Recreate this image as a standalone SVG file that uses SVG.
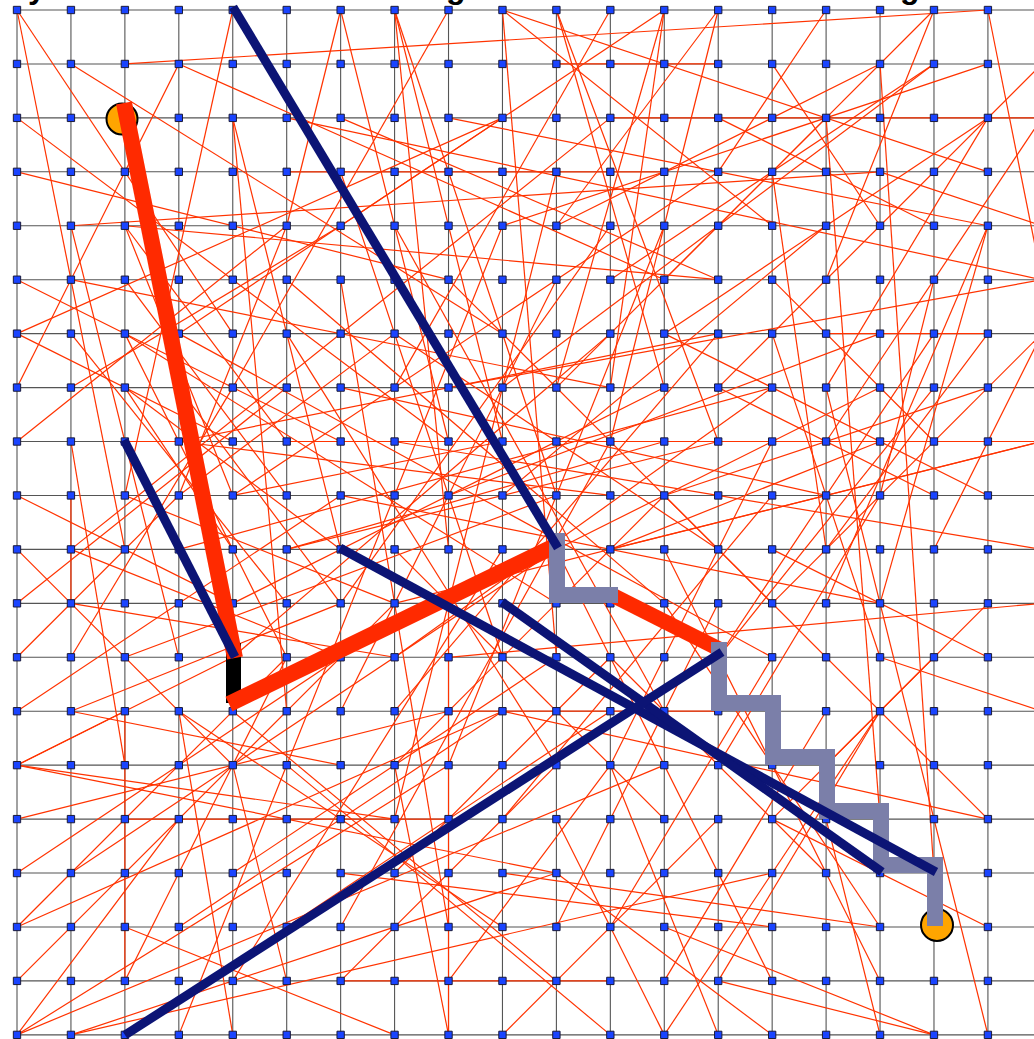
<svg xmlns="http://www.w3.org/2000/svg" width="1034" height="1039" viewBox="0 0 1034 1039">
<style>
.g{fill:none;stroke:#555;stroke-width:1.1}
.e path{fill:none;stroke:#ff3300;stroke-width:1.2}
.ns{vector-effect:non-scaling-stroke}
.title{font-family:"Liberation Sans",Arial,sans-serif;font-weight:bold;font-size:32px;fill:#000}
.navy{stroke:#0c1475;stroke-width:9;fill:none}
.hot{stroke:#ff2a00;fill:none}
.stair{stroke:#7b7fa9;stroke-width:16;fill:none;stroke-linejoin:miter}
.goal{fill:#ffa500;stroke:#000;stroke-width:2}
</style>
<defs>
<rect id="nd" x="-0.068" y="-0.068" width="0.136" height="0.136" fill="#1a44ff" stroke="#1a1a3a" stroke-width="1" vector-effect="non-scaling-stroke"/>
</defs>
<rect width="1034" height="1039" fill="#fff"/>
<text class="title" x="28" y="-2">y</text>
<text class="title" x="446" y="-2">g</text>
<text class="title" x="900" y="-2">g</text>
<g transform="translate(17 10) scale(53.94)">
<path id="grid" class="g ns" d="M0 0H19M0 1H19M0 2H19M0 3H19M0 4H19M0 5H19M0 6H19M0 7H19M0 8H19M0 9H19M0 10H19M0 11H19M0 12H19M0 13H19M0 14H19M0 15H19M0 16H19M0 17H19M0 18H19M0 19H19M0 0V19M1 0V19M2 0V19M3 0V19M4 0V19M5 0V19M6 0V19M7 0V19M8 0V19M9 0V19M10 0V19M11 0V19M12 0V19M13 0V19M14 0V19M15 0V19M16 0V19M17 0V19M18 0V19"/>
<g id="edges" class="e">
<path class="ns" d="M2 1L18 0"/><path class="ns" d="M0 0L2 10"/><path class="ns" d="M0 0L4 6"/><path class="ns" d="M1 1L9 6"/>
<path class="ns" d="M3 1L12 5"/><path class="ns" d="M0 8L5 4"/><path class="ns" d="M0 2L8 8"/><path class="ns" d="M0 3L8 5"/>
<path class="ns" d="M1 4L16 3"/><path class="ns" d="M2 4L13 5"/><path class="ns" d="M1 4L3 12"/><path class="ns" d="M2 4L5 8"/>
<path class="ns" d="M2 4L4 9"/><path class="ns" d="M4 2L5 13"/><path class="ns" d="M4 2L6 10"/><path class="ns" d="M4 0L2 9"/>
<path class="ns" d="M1 5L11 7"/><path class="ns" d="M0 5L6 8"/><path class="ns" d="M0 6L4 8"/><path class="ns" d="M0 7L3 1"/>
<path class="ns" d="M7 0L9 8"/><path class="ns" d="M7 0L10 9"/><path class="ns" d="M8 0L4 7"/><path class="ns" d="M6 0L5 4"/>
<path class="ns" d="M6 0L8 8"/><path class="ns" d="M7 0L8 10"/><path class="ns" d="M9 0L14 4"/><path class="ns" d="M9 0L10 12"/>
<path class="ns" d="M9 0L18 3"/><path class="ns" d="M10 0L12 7"/><path class="ns" d="M10 0L13 8"/><path class="ns" d="M11 0L7 7"/>
<path class="ns" d="M12 0L10 7"/><path class="ns" d="M12 0L11 7"/><path class="ns" d="M12 0L6 4"/><path class="ns" d="M13 0L11 8"/>
<path class="ns" d="M13 0L10 4"/><path class="ns" d="M17 0L15 5"/><path class="ns" d="M17 0L12 5"/><path class="ns" d="M18 0L19 5"/>
<path class="ns" d="M16 1L10 4"/><path class="ns" d="M16 1L17 16"/><path class="ns" d="M17 1L9 7"/><path class="ns" d="M17 1L11 5"/>
<path class="ns" d="M18 1L9 4"/><path class="ns" d="M19 1L13 7"/><path class="ns" d="M11 2L19 2"/><path class="ns" d="M15 2L10 7"/>
<path class="ns" d="M15 2L16 15"/><path class="ns" d="M18 2L12 6"/><path class="ns" d="M18 2L15 7"/><path class="ns" d="M19 2L15 8"/>
<path class="ns" d="M8 2L18 4"/><path class="ns" d="M5 2L19 5"/><path class="ns" d="M19 5L8 7"/><path class="ns" d="M18 4L15 11"/>
<path class="ns" d="M18 4L16 11"/><path class="ns" d="M14 3L15 10"/><path class="ns" d="M10 1L13 1"/><path class="ns" d="M5 3L12 3"/>
<path class="ns" d="M6 2L13 5"/><path class="ns" d="M9 2L3 6"/><path class="ns" d="M9 2L0 6"/><path class="ns" d="M11 2L1 10"/>
<path class="ns" d="M1 11L7 12"/><path class="ns" d="M2 8L3 8"/><path class="ns" d="M1 9L1 11"/><path class="ns" d="M0 14L7 15"/>
<path class="ns" d="M0 14L10 16"/><path class="ns" d="M0 14L4 12"/><path class="ns" d="M0 14L2 13"/><path class="ns" d="M0 15L8 13"/>
<path class="ns" d="M0 17L5 12"/><path class="ns" d="M0 18L7 11"/><path class="ns" d="M0 19L12 14"/><path class="ns" d="M0 19L8 14"/>
<path class="ns" d="M0 19L3 15"/><path class="ns" d="M1 19L10 16"/><path class="ns" d="M1 19L14 16"/><path class="ns" d="M1 16L10 10"/>
<path class="ns" d="M2 15L8 15"/><path class="ns" d="M2 13L2 18"/><path class="ns" d="M3 13L9 17"/><path class="ns" d="M4 16L10 12"/>
<path class="ns" d="M3 13L4 19"/><path class="ns" d="M8 13L13 13"/><path class="ns" d="M6 18L11 18"/><path class="ns" d="M8 19L7 14"/>
<path class="ns" d="M8 11L8 19"/><path class="ns" d="M9 13L18 15"/><path class="ns" d="M15 7L18 19"/><path class="ns" d="M12 17L17 19"/>
<path class="ns" d="M13 18L17 19"/><path class="ns" d="M9 16L16 17"/><path class="ns" d="M6 16L14 17"/><path class="ns" d="M13 18L16 13"/>
<path class="ns" d="M5 8L19 8"/><path class="ns" d="M7 8L19 10"/><path class="ns" d="M19 8L7 11"/><path class="ns" d="M19 8L11 10"/><path class="ns" d="M12 6L18 9"/>
<path class="ns" d="M8 12L19 11"/><path class="ns" d="M17 10L19 6"/><path class="ns" d="M18 11L15 14"/><path class="ns" d="M3 6L14 12"/>
<path class="ns" d="M4 9L13 3"/><path class="ns" d="M5 5L12 11"/><path class="ns" d="M6 11L11 4"/><path class="ns" d="M2 6L10 11"/>
<path class="ns" d="M7 4L12 13"/><path class="ns" d="M9 4L5 14"/><path class="ns" d="M10 3L7 15"/><path class="ns" d="M3 10L14 7"/>
<path class="ns" d="M6 3L9 12"/><path class="ns" d="M11 6L4 12"/><path class="ns" d="M12 8L5 10"/><path class="ns" d="M5 6L10 14"/>
<path class="ns" d="M13 6L7 13"/><path class="ns" d="M8 5L14 11"/><path class="ns" d="M4 11L12 7"/><path class="ns" d="M7 6L13 10"/>
<path class="ns" d="M9 9L15 4"/><path class="ns" d="M10 5L6 13"/><path class="ns" d="M6 7L15 9"/><path class="ns" d="M12 4L8 14"/>
<path class="ns" d="M3 8L11 9"/><path class="ns" d="M11 8L6 17"/><path class="ns" d="M14 9L9 15"/><path class="ns" d="M5 10L13 8"/>
<path class="ns" d="M2 12L10 9"/><path class="ns" d="M7 10L12 15"/><path class="ns" d="M8 9L16 6"/><path class="ns" d="M13 11L10 17"/>
<path class="ns" d="M14 8L11 14"/><path class="ns" d="M6 5L8 17"/><path class="ns" d="M10 10L14 18"/><path class="ns" d="M9 10L4 18"/>
<path class="ns" d="M12 10L16 18"/><path class="ns" d="M11 12L15 16"/><path class="ns" d="M7 14L12 9"/><path class="ns" d="M4 13L10 18"/>
<path class="ns" d="M13 15L9 19"/><path class="ns" d="M10 15L12 19"/><path class="ns" d="M11 17L14 12"/><path class="ns" d="M15 13L12 18"/>
<path class="ns" d="M16 9L13 14"/><path class="ns" d="M16 12L19 13"/><path class="ns" d="M14 15L18 17"/><path class="ns" d="M5 14L11 19"/>
<path class="ns" d="M3 17L9 13"/><path class="ns" d="M1 13L6 14"/><path class="ns" d="M2 17L7 19"/><path class="ns" d="M3 19L5 14"/>
<path class="ns" d="M1 6L5 11"/><path class="ns" d="M0 10L4 14"/><path class="ns" d="M0 12L3 9"/><path class="ns" d="M1 8L2 14"/>
<path class="ns" d="M3 9L7 6"/><path class="ns" d="M2 5L5 9"/><path class="ns" d="M5 4L3 9"/><path class="ns" d="M14 5L17 8"/>
<path class="ns" d="M15 6L18 6"/><path class="ns" d="M13 2L17 4"/><path class="ns" d="M14 1L16 4"/><path class="ns" d="M15 0L13 3"/>
<path class="ns" d="M16 3L19 4"/><path class="ns" d="M17 5L16 9"/><path class="ns" d="M18 6L15 10"/><path class="ns" d="M17 12L14 15"/>
<path class="ns" d="M15 15L16 19"/><path class="ns" d="M11 14L13 19"/><path class="ns" d="M6 18L10 14"/><path class="ns" d="M7 16L11 12"/>
<path class="ns" d="M2 18L5 12"/><path class="ns" d="M0 16L6 12"/><path class="ns" d="M0 17L9 13"/><path class="ns" d="M1 13L6 11"/>
<path class="ns" d="M5 17L11 13"/><path class="ns" d="M5 18L4 14"/><path class="ns" d="M12 11L16 17"/><path class="ns" d="M12 9L18 15"/>
<path class="ns" d="M10 16L14 19"/><path class="ns" d="M12 19L16 13"/><path class="ns" d="M8 18L11 14"/>
<path class="ns" d="M1 7L6 4"/><path class="ns" d="M2 7L6 10"/><path class="ns" d="M2 7L4 10"/><path class="ns" d="M2 6L5 12"/>
<path class="ns" d="M4 9L9 8"/><path class="ns" d="M3 8L13 6"/><path class="ns" d="M0 9L4 11"/><path class="ns" d="M0 11L5 7"/>
<path class="ns" d="M1 10L6 12"/><path class="ns" d="M3 7L6 11"/><path class="ns" d="M2 9L7 11"/><path class="ns" d="M4 7L1 12"/>
<path class="ns" d="M0 13L6 9"/><path class="ns" d="M19 6L14 11"/><path class="ns" d="M16 7L8 11"/><path class="ns" d="M6 9L16 11"/>
<path class="ns" d="M13 7L17 9"/><path class="ns" d="M12 9L18 7"/><path class="ns" d="M14 6L16 12"/><path class="ns" d="M13 12L17 6"/>
<path class="ns" d="M14 10L18 12"/><path class="ns" d="M11 10L16 8"/><path class="ns" d="M17 7L13 12"/><path class="ns" d="M14 7L7 12"/>
</g>
<g id="nodes">
<use id="n0_0" href="#nd" x="0" y="0"/><use id="n1_0" href="#nd" x="1" y="0"/><use id="n2_0" href="#nd" x="2" y="0"/><use id="n3_0" href="#nd" x="3" y="0"/><use id="n4_0" href="#nd" x="4" y="0"/><use id="n5_0" href="#nd" x="5" y="0"/><use id="n6_0" href="#nd" x="6" y="0"/><use id="n7_0" href="#nd" x="7" y="0"/><use id="n8_0" href="#nd" x="8" y="0"/><use id="n9_0" href="#nd" x="9" y="0"/><use id="n10_0" href="#nd" x="10" y="0"/><use id="n11_0" href="#nd" x="11" y="0"/><use id="n12_0" href="#nd" x="12" y="0"/><use id="n13_0" href="#nd" x="13" y="0"/><use id="n14_0" href="#nd" x="14" y="0"/><use id="n15_0" href="#nd" x="15" y="0"/><use id="n16_0" href="#nd" x="16" y="0"/><use id="n17_0" href="#nd" x="17" y="0"/><use id="n18_0" href="#nd" x="18" y="0"/>
<use id="n0_1" href="#nd" x="0" y="1"/><use id="n1_1" href="#nd" x="1" y="1"/><use id="n2_1" href="#nd" x="2" y="1"/><use id="n3_1" href="#nd" x="3" y="1"/><use id="n4_1" href="#nd" x="4" y="1"/><use id="n5_1" href="#nd" x="5" y="1"/><use id="n6_1" href="#nd" x="6" y="1"/><use id="n7_1" href="#nd" x="7" y="1"/><use id="n8_1" href="#nd" x="8" y="1"/><use id="n9_1" href="#nd" x="9" y="1"/><use id="n10_1" href="#nd" x="10" y="1"/><use id="n11_1" href="#nd" x="11" y="1"/><use id="n12_1" href="#nd" x="12" y="1"/><use id="n13_1" href="#nd" x="13" y="1"/><use id="n14_1" href="#nd" x="14" y="1"/><use id="n15_1" href="#nd" x="15" y="1"/><use id="n16_1" href="#nd" x="16" y="1"/><use id="n17_1" href="#nd" x="17" y="1"/><use id="n18_1" href="#nd" x="18" y="1"/>
<use id="n0_2" href="#nd" x="0" y="2"/><use id="n1_2" href="#nd" x="1" y="2"/><use id="n2_2" href="#nd" x="2" y="2"/><use id="n3_2" href="#nd" x="3" y="2"/><use id="n4_2" href="#nd" x="4" y="2"/><use id="n5_2" href="#nd" x="5" y="2"/><use id="n6_2" href="#nd" x="6" y="2"/><use id="n7_2" href="#nd" x="7" y="2"/><use id="n8_2" href="#nd" x="8" y="2"/><use id="n9_2" href="#nd" x="9" y="2"/><use id="n10_2" href="#nd" x="10" y="2"/><use id="n11_2" href="#nd" x="11" y="2"/><use id="n12_2" href="#nd" x="12" y="2"/><use id="n13_2" href="#nd" x="13" y="2"/><use id="n14_2" href="#nd" x="14" y="2"/><use id="n15_2" href="#nd" x="15" y="2"/><use id="n16_2" href="#nd" x="16" y="2"/><use id="n17_2" href="#nd" x="17" y="2"/><use id="n18_2" href="#nd" x="18" y="2"/>
<use id="n0_3" href="#nd" x="0" y="3"/><use id="n1_3" href="#nd" x="1" y="3"/><use id="n2_3" href="#nd" x="2" y="3"/><use id="n3_3" href="#nd" x="3" y="3"/><use id="n4_3" href="#nd" x="4" y="3"/><use id="n5_3" href="#nd" x="5" y="3"/><use id="n6_3" href="#nd" x="6" y="3"/><use id="n7_3" href="#nd" x="7" y="3"/><use id="n8_3" href="#nd" x="8" y="3"/><use id="n9_3" href="#nd" x="9" y="3"/><use id="n10_3" href="#nd" x="10" y="3"/><use id="n11_3" href="#nd" x="11" y="3"/><use id="n12_3" href="#nd" x="12" y="3"/><use id="n13_3" href="#nd" x="13" y="3"/><use id="n14_3" href="#nd" x="14" y="3"/><use id="n15_3" href="#nd" x="15" y="3"/><use id="n16_3" href="#nd" x="16" y="3"/><use id="n17_3" href="#nd" x="17" y="3"/><use id="n18_3" href="#nd" x="18" y="3"/>
<use id="n0_4" href="#nd" x="0" y="4"/><use id="n1_4" href="#nd" x="1" y="4"/><use id="n2_4" href="#nd" x="2" y="4"/><use id="n3_4" href="#nd" x="3" y="4"/><use id="n4_4" href="#nd" x="4" y="4"/><use id="n5_4" href="#nd" x="5" y="4"/><use id="n6_4" href="#nd" x="6" y="4"/><use id="n7_4" href="#nd" x="7" y="4"/><use id="n8_4" href="#nd" x="8" y="4"/><use id="n9_4" href="#nd" x="9" y="4"/><use id="n10_4" href="#nd" x="10" y="4"/><use id="n11_4" href="#nd" x="11" y="4"/><use id="n12_4" href="#nd" x="12" y="4"/><use id="n13_4" href="#nd" x="13" y="4"/><use id="n14_4" href="#nd" x="14" y="4"/><use id="n15_4" href="#nd" x="15" y="4"/><use id="n16_4" href="#nd" x="16" y="4"/><use id="n17_4" href="#nd" x="17" y="4"/><use id="n18_4" href="#nd" x="18" y="4"/>
<use id="n0_5" href="#nd" x="0" y="5"/><use id="n1_5" href="#nd" x="1" y="5"/><use id="n2_5" href="#nd" x="2" y="5"/><use id="n3_5" href="#nd" x="3" y="5"/><use id="n4_5" href="#nd" x="4" y="5"/><use id="n5_5" href="#nd" x="5" y="5"/><use id="n6_5" href="#nd" x="6" y="5"/><use id="n7_5" href="#nd" x="7" y="5"/><use id="n8_5" href="#nd" x="8" y="5"/><use id="n9_5" href="#nd" x="9" y="5"/><use id="n10_5" href="#nd" x="10" y="5"/><use id="n11_5" href="#nd" x="11" y="5"/><use id="n12_5" href="#nd" x="12" y="5"/><use id="n13_5" href="#nd" x="13" y="5"/><use id="n14_5" href="#nd" x="14" y="5"/><use id="n15_5" href="#nd" x="15" y="5"/><use id="n16_5" href="#nd" x="16" y="5"/><use id="n17_5" href="#nd" x="17" y="5"/><use id="n18_5" href="#nd" x="18" y="5"/>
<use id="n0_6" href="#nd" x="0" y="6"/><use id="n1_6" href="#nd" x="1" y="6"/><use id="n2_6" href="#nd" x="2" y="6"/><use id="n3_6" href="#nd" x="3" y="6"/><use id="n4_6" href="#nd" x="4" y="6"/><use id="n5_6" href="#nd" x="5" y="6"/><use id="n6_6" href="#nd" x="6" y="6"/><use id="n7_6" href="#nd" x="7" y="6"/><use id="n8_6" href="#nd" x="8" y="6"/><use id="n9_6" href="#nd" x="9" y="6"/><use id="n10_6" href="#nd" x="10" y="6"/><use id="n11_6" href="#nd" x="11" y="6"/><use id="n12_6" href="#nd" x="12" y="6"/><use id="n13_6" href="#nd" x="13" y="6"/><use id="n14_6" href="#nd" x="14" y="6"/><use id="n15_6" href="#nd" x="15" y="6"/><use id="n16_6" href="#nd" x="16" y="6"/><use id="n17_6" href="#nd" x="17" y="6"/><use id="n18_6" href="#nd" x="18" y="6"/>
<use id="n0_7" href="#nd" x="0" y="7"/><use id="n1_7" href="#nd" x="1" y="7"/><use id="n2_7" href="#nd" x="2" y="7"/><use id="n3_7" href="#nd" x="3" y="7"/><use id="n4_7" href="#nd" x="4" y="7"/><use id="n5_7" href="#nd" x="5" y="7"/><use id="n6_7" href="#nd" x="6" y="7"/><use id="n7_7" href="#nd" x="7" y="7"/><use id="n8_7" href="#nd" x="8" y="7"/><use id="n9_7" href="#nd" x="9" y="7"/><use id="n10_7" href="#nd" x="10" y="7"/><use id="n11_7" href="#nd" x="11" y="7"/><use id="n12_7" href="#nd" x="12" y="7"/><use id="n13_7" href="#nd" x="13" y="7"/><use id="n14_7" href="#nd" x="14" y="7"/><use id="n15_7" href="#nd" x="15" y="7"/><use id="n16_7" href="#nd" x="16" y="7"/><use id="n17_7" href="#nd" x="17" y="7"/><use id="n18_7" href="#nd" x="18" y="7"/>
<use id="n0_8" href="#nd" x="0" y="8"/><use id="n1_8" href="#nd" x="1" y="8"/><use id="n2_8" href="#nd" x="2" y="8"/><use id="n3_8" href="#nd" x="3" y="8"/><use id="n4_8" href="#nd" x="4" y="8"/><use id="n5_8" href="#nd" x="5" y="8"/><use id="n6_8" href="#nd" x="6" y="8"/><use id="n7_8" href="#nd" x="7" y="8"/><use id="n8_8" href="#nd" x="8" y="8"/><use id="n9_8" href="#nd" x="9" y="8"/><use id="n10_8" href="#nd" x="10" y="8"/><use id="n11_8" href="#nd" x="11" y="8"/><use id="n12_8" href="#nd" x="12" y="8"/><use id="n13_8" href="#nd" x="13" y="8"/><use id="n14_8" href="#nd" x="14" y="8"/><use id="n15_8" href="#nd" x="15" y="8"/><use id="n16_8" href="#nd" x="16" y="8"/><use id="n17_8" href="#nd" x="17" y="8"/><use id="n18_8" href="#nd" x="18" y="8"/>
<use id="n0_9" href="#nd" x="0" y="9"/><use id="n1_9" href="#nd" x="1" y="9"/><use id="n2_9" href="#nd" x="2" y="9"/><use id="n3_9" href="#nd" x="3" y="9"/><use id="n4_9" href="#nd" x="4" y="9"/><use id="n5_9" href="#nd" x="5" y="9"/><use id="n6_9" href="#nd" x="6" y="9"/><use id="n7_9" href="#nd" x="7" y="9"/><use id="n8_9" href="#nd" x="8" y="9"/><use id="n9_9" href="#nd" x="9" y="9"/><use id="n10_9" href="#nd" x="10" y="9"/><use id="n11_9" href="#nd" x="11" y="9"/><use id="n12_9" href="#nd" x="12" y="9"/><use id="n13_9" href="#nd" x="13" y="9"/><use id="n14_9" href="#nd" x="14" y="9"/><use id="n15_9" href="#nd" x="15" y="9"/><use id="n16_9" href="#nd" x="16" y="9"/><use id="n17_9" href="#nd" x="17" y="9"/><use id="n18_9" href="#nd" x="18" y="9"/>
<use id="n0_10" href="#nd" x="0" y="10"/><use id="n1_10" href="#nd" x="1" y="10"/><use id="n2_10" href="#nd" x="2" y="10"/><use id="n3_10" href="#nd" x="3" y="10"/><use id="n4_10" href="#nd" x="4" y="10"/><use id="n5_10" href="#nd" x="5" y="10"/><use id="n6_10" href="#nd" x="6" y="10"/><use id="n7_10" href="#nd" x="7" y="10"/><use id="n8_10" href="#nd" x="8" y="10"/><use id="n9_10" href="#nd" x="9" y="10"/><use id="n10_10" href="#nd" x="10" y="10"/><use id="n11_10" href="#nd" x="11" y="10"/><use id="n12_10" href="#nd" x="12" y="10"/><use id="n13_10" href="#nd" x="13" y="10"/><use id="n14_10" href="#nd" x="14" y="10"/><use id="n15_10" href="#nd" x="15" y="10"/><use id="n16_10" href="#nd" x="16" y="10"/><use id="n17_10" href="#nd" x="17" y="10"/><use id="n18_10" href="#nd" x="18" y="10"/>
<use id="n0_11" href="#nd" x="0" y="11"/><use id="n1_11" href="#nd" x="1" y="11"/><use id="n2_11" href="#nd" x="2" y="11"/><use id="n3_11" href="#nd" x="3" y="11"/><use id="n4_11" href="#nd" x="4" y="11"/><use id="n5_11" href="#nd" x="5" y="11"/><use id="n6_11" href="#nd" x="6" y="11"/><use id="n7_11" href="#nd" x="7" y="11"/><use id="n8_11" href="#nd" x="8" y="11"/><use id="n9_11" href="#nd" x="9" y="11"/><use id="n10_11" href="#nd" x="10" y="11"/><use id="n11_11" href="#nd" x="11" y="11"/><use id="n12_11" href="#nd" x="12" y="11"/><use id="n13_11" href="#nd" x="13" y="11"/><use id="n14_11" href="#nd" x="14" y="11"/><use id="n15_11" href="#nd" x="15" y="11"/><use id="n16_11" href="#nd" x="16" y="11"/><use id="n17_11" href="#nd" x="17" y="11"/><use id="n18_11" href="#nd" x="18" y="11"/>
<use id="n0_12" href="#nd" x="0" y="12"/><use id="n1_12" href="#nd" x="1" y="12"/><use id="n2_12" href="#nd" x="2" y="12"/><use id="n3_12" href="#nd" x="3" y="12"/><use id="n4_12" href="#nd" x="4" y="12"/><use id="n5_12" href="#nd" x="5" y="12"/><use id="n6_12" href="#nd" x="6" y="12"/><use id="n7_12" href="#nd" x="7" y="12"/><use id="n8_12" href="#nd" x="8" y="12"/><use id="n9_12" href="#nd" x="9" y="12"/><use id="n10_12" href="#nd" x="10" y="12"/><use id="n11_12" href="#nd" x="11" y="12"/><use id="n12_12" href="#nd" x="12" y="12"/><use id="n13_12" href="#nd" x="13" y="12"/><use id="n14_12" href="#nd" x="14" y="12"/><use id="n15_12" href="#nd" x="15" y="12"/><use id="n16_12" href="#nd" x="16" y="12"/><use id="n17_12" href="#nd" x="17" y="12"/><use id="n18_12" href="#nd" x="18" y="12"/>
<use id="n0_13" href="#nd" x="0" y="13"/><use id="n1_13" href="#nd" x="1" y="13"/><use id="n2_13" href="#nd" x="2" y="13"/><use id="n3_13" href="#nd" x="3" y="13"/><use id="n4_13" href="#nd" x="4" y="13"/><use id="n5_13" href="#nd" x="5" y="13"/><use id="n6_13" href="#nd" x="6" y="13"/><use id="n7_13" href="#nd" x="7" y="13"/><use id="n8_13" href="#nd" x="8" y="13"/><use id="n9_13" href="#nd" x="9" y="13"/><use id="n10_13" href="#nd" x="10" y="13"/><use id="n11_13" href="#nd" x="11" y="13"/><use id="n12_13" href="#nd" x="12" y="13"/><use id="n13_13" href="#nd" x="13" y="13"/><use id="n14_13" href="#nd" x="14" y="13"/><use id="n15_13" href="#nd" x="15" y="13"/><use id="n16_13" href="#nd" x="16" y="13"/><use id="n17_13" href="#nd" x="17" y="13"/><use id="n18_13" href="#nd" x="18" y="13"/>
<use id="n0_14" href="#nd" x="0" y="14"/><use id="n1_14" href="#nd" x="1" y="14"/><use id="n2_14" href="#nd" x="2" y="14"/><use id="n3_14" href="#nd" x="3" y="14"/><use id="n4_14" href="#nd" x="4" y="14"/><use id="n5_14" href="#nd" x="5" y="14"/><use id="n6_14" href="#nd" x="6" y="14"/><use id="n7_14" href="#nd" x="7" y="14"/><use id="n8_14" href="#nd" x="8" y="14"/><use id="n9_14" href="#nd" x="9" y="14"/><use id="n10_14" href="#nd" x="10" y="14"/><use id="n11_14" href="#nd" x="11" y="14"/><use id="n12_14" href="#nd" x="12" y="14"/><use id="n13_14" href="#nd" x="13" y="14"/><use id="n14_14" href="#nd" x="14" y="14"/><use id="n15_14" href="#nd" x="15" y="14"/><use id="n16_14" href="#nd" x="16" y="14"/><use id="n17_14" href="#nd" x="17" y="14"/><use id="n18_14" href="#nd" x="18" y="14"/>
<use id="n0_15" href="#nd" x="0" y="15"/><use id="n1_15" href="#nd" x="1" y="15"/><use id="n2_15" href="#nd" x="2" y="15"/><use id="n3_15" href="#nd" x="3" y="15"/><use id="n4_15" href="#nd" x="4" y="15"/><use id="n5_15" href="#nd" x="5" y="15"/><use id="n6_15" href="#nd" x="6" y="15"/><use id="n7_15" href="#nd" x="7" y="15"/><use id="n8_15" href="#nd" x="8" y="15"/><use id="n9_15" href="#nd" x="9" y="15"/><use id="n10_15" href="#nd" x="10" y="15"/><use id="n11_15" href="#nd" x="11" y="15"/><use id="n12_15" href="#nd" x="12" y="15"/><use id="n13_15" href="#nd" x="13" y="15"/><use id="n14_15" href="#nd" x="14" y="15"/><use id="n15_15" href="#nd" x="15" y="15"/><use id="n16_15" href="#nd" x="16" y="15"/><use id="n17_15" href="#nd" x="17" y="15"/><use id="n18_15" href="#nd" x="18" y="15"/>
<use id="n0_16" href="#nd" x="0" y="16"/><use id="n1_16" href="#nd" x="1" y="16"/><use id="n2_16" href="#nd" x="2" y="16"/><use id="n3_16" href="#nd" x="3" y="16"/><use id="n4_16" href="#nd" x="4" y="16"/><use id="n5_16" href="#nd" x="5" y="16"/><use id="n6_16" href="#nd" x="6" y="16"/><use id="n7_16" href="#nd" x="7" y="16"/><use id="n8_16" href="#nd" x="8" y="16"/><use id="n9_16" href="#nd" x="9" y="16"/><use id="n10_16" href="#nd" x="10" y="16"/><use id="n11_16" href="#nd" x="11" y="16"/><use id="n12_16" href="#nd" x="12" y="16"/><use id="n13_16" href="#nd" x="13" y="16"/><use id="n14_16" href="#nd" x="14" y="16"/><use id="n15_16" href="#nd" x="15" y="16"/><use id="n16_16" href="#nd" x="16" y="16"/><use id="n17_16" href="#nd" x="17" y="16"/><use id="n18_16" href="#nd" x="18" y="16"/>
<use id="n0_17" href="#nd" x="0" y="17"/><use id="n1_17" href="#nd" x="1" y="17"/><use id="n2_17" href="#nd" x="2" y="17"/><use id="n3_17" href="#nd" x="3" y="17"/><use id="n4_17" href="#nd" x="4" y="17"/><use id="n5_17" href="#nd" x="5" y="17"/><use id="n6_17" href="#nd" x="6" y="17"/><use id="n7_17" href="#nd" x="7" y="17"/><use id="n8_17" href="#nd" x="8" y="17"/><use id="n9_17" href="#nd" x="9" y="17"/><use id="n10_17" href="#nd" x="10" y="17"/><use id="n11_17" href="#nd" x="11" y="17"/><use id="n12_17" href="#nd" x="12" y="17"/><use id="n13_17" href="#nd" x="13" y="17"/><use id="n14_17" href="#nd" x="14" y="17"/><use id="n15_17" href="#nd" x="15" y="17"/><use id="n16_17" href="#nd" x="16" y="17"/><use id="n17_17" href="#nd" x="17" y="17"/><use id="n18_17" href="#nd" x="18" y="17"/>
<use id="n0_18" href="#nd" x="0" y="18"/><use id="n1_18" href="#nd" x="1" y="18"/><use id="n2_18" href="#nd" x="2" y="18"/><use id="n3_18" href="#nd" x="3" y="18"/><use id="n4_18" href="#nd" x="4" y="18"/><use id="n5_18" href="#nd" x="5" y="18"/><use id="n6_18" href="#nd" x="6" y="18"/><use id="n7_18" href="#nd" x="7" y="18"/><use id="n8_18" href="#nd" x="8" y="18"/><use id="n9_18" href="#nd" x="9" y="18"/><use id="n10_18" href="#nd" x="10" y="18"/><use id="n11_18" href="#nd" x="11" y="18"/><use id="n12_18" href="#nd" x="12" y="18"/><use id="n13_18" href="#nd" x="13" y="18"/><use id="n14_18" href="#nd" x="14" y="18"/><use id="n15_18" href="#nd" x="15" y="18"/><use id="n16_18" href="#nd" x="16" y="18"/><use id="n17_18" href="#nd" x="17" y="18"/><use id="n18_18" href="#nd" x="18" y="18"/>
<use id="n0_19" href="#nd" x="0" y="19"/><use id="n1_19" href="#nd" x="1" y="19"/><use id="n2_19" href="#nd" x="2" y="19"/><use id="n3_19" href="#nd" x="3" y="19"/><use id="n4_19" href="#nd" x="4" y="19"/><use id="n5_19" href="#nd" x="5" y="19"/><use id="n6_19" href="#nd" x="6" y="19"/><use id="n7_19" href="#nd" x="7" y="19"/><use id="n8_19" href="#nd" x="8" y="19"/><use id="n9_19" href="#nd" x="9" y="19"/><use id="n10_19" href="#nd" x="10" y="19"/><use id="n11_19" href="#nd" x="11" y="19"/><use id="n12_19" href="#nd" x="12" y="19"/><use id="n13_19" href="#nd" x="13" y="19"/><use id="n14_19" href="#nd" x="14" y="19"/><use id="n15_19" href="#nd" x="15" y="19"/><use id="n16_19" href="#nd" x="16" y="19"/><use id="n17_19" href="#nd" x="17" y="19"/><use id="n18_19" href="#nd" x="18" y="19"/>
</g>
</g>
<g id="path-layer">
<circle id="start" class="goal" cx="122" cy="119" r="15.5"/>
<circle id="goal" class="goal" cx="937" cy="925" r="16"/>
<rect id="blk" x="226" y="643" width="15" height="60" fill="#000"/>
<path id="hot1" class="hot" stroke-width="16" d="M124 103L235 658"/>
<path id="hot2" class="hot" stroke-width="16" d="M229 704L561 543"/>
<path id="hot3" class="hot" stroke-width="15" d="M614 596L723 651"/>
<path id="stair1" class="stair" stroke-width="15" d="M557 533V595H618"/>
<path id="stair2" class="stair" d="M719 642V703H773V757H827V811H881V865H935V926"/>
<path id="nv1" class="navy" d="M233 7L558 548"/>
<path id="nv2" class="navy" d="M124 440L235 657"/>
<path id="nv3" class="navy" d="M340 548L936 872"/>
<path id="nv4" class="navy" d="M502 602L882 872"/>
<path id="nv5" class="navy" d="M125 1035L722 652"/>
</g>
</svg>
